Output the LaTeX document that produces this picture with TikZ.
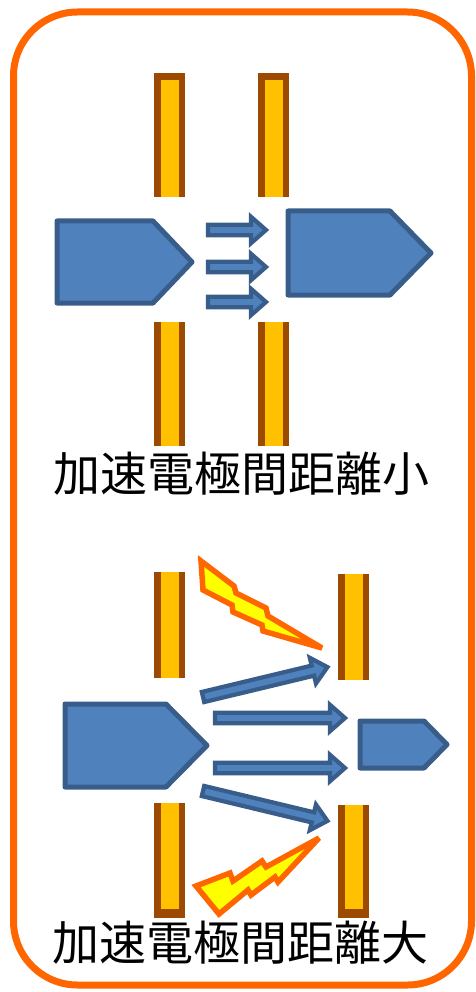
\documentclass[tikz,border=0pt]{standalone}
\usepackage{fontspec}
\newfontfamily\jpfont{Noto Sans CJK JP}

\definecolor{frameorange}{HTML}{FF6600}
\definecolor{ionfill}{HTML}{4F81BD}
\definecolor{ionedge}{HTML}{385D8A}
\definecolor{plateedge}{HTML}{9C4A00}
\definecolor{platecore}{HTML}{FFC000}
\definecolor{sparkyellow}{HTML}{FFFF00}

% electrode plate: x-left, y-top, y-bottom, top cap, bottom cap
\newcommand\plate[5]{%
  \fill[plateedge] (#1,#2) rectangle (#1+31,#3);
  \fill[platecore] (#1+6.5,#2+#4) rectangle (#1+24.5,#3-#5);
}

\tikzset{
  frame/.style={draw=frameorange, line width=7pt, rounded corners=64pt},
  ion/.style={fill=ionfill, draw=ionedge, line width=5pt, line join=round},
  beam/.style={fill=ionfill, draw=ionedge, line width=4.2pt, line join=miter},
  spark/.style={fill=sparkyellow, draw=frameorange, line width=5.5pt, line join=miter, miter limit=6},
  caption/.style={font=\jpfont\fontsize{47}{52}\selectfont, inner sep=0pt},
  pics/beamarrow/.style={code={
    \draw[beam] (0,-5.2) -- (#1-15,-5.2) -- (#1-15,-13.2) -- (#1,0)
      -- (#1-15,13.2) -- (#1-15,5.2) -- (0,5.2) -- cycle;
  }}
}

\begin{document}
\begin{tikzpicture}[x=1pt,y=-1pt]
\useasboundingbox (0,0) rectangle (475,992);

% outer frame
\draw[frame] (13.5,12) rectangle (471.5,985);

% ---- narrow gap: electrodes ----
\plate{154}{73}{197}{7}{0}
\plate{258}{73}{197}{7}{0}
\plate{154}{322}{446}{0}{0}
\plate{258}{322}{446}{0}{0}

% ion bunches
\draw[ion] (57,221) -- (153,221) -- (192,262) -- (153,303) -- (57,303) -- cycle;
\draw[ion] (288,211) -- (390,211) -- (431,253) -- (390,295) -- (288,295) -- cycle;

% beams through the gap
\coordinate (b1) at (208,230);
\coordinate (b2) at (208,267);
\coordinate (b3) at (208,302);
\pic at (b1) {beamarrow=58};
\pic at (b2) {beamarrow=58};
\pic at (b3) {beamarrow=58};

\node[caption] (small) at (241,474) {加速電極間距離小};

% ---- wide gap: electrodes ----
\plate{154}{572}{678}{0}{0}
\plate{338}{574}{680}{0}{0}
\plate{154}{803}{918}{0}{9}
\plate{338}{805}{918}{0}{9}

% ion bunches
\draw[ion] (65,704) -- (166,704) -- (207,745.5) -- (166,787) -- (65,787) -- cycle;
\draw[ion] (360,721) -- (424,721) -- (447,744.5) -- (424,768) -- (360,768) -- cycle;

% diverging beams
\coordinate (c1) at (203,697);
\coordinate (c2) at (215,718);
\coordinate (c3) at (215,768);
\coordinate (c4) at (203,791);
\pic[rotate=13.5] at (c1) {beamarrow=128};
\pic at (c2) {beamarrow=130};
\pic at (c3) {beamarrow=130};
\pic[rotate=-13.5] at (c4) {beamarrow=128};

% discharges
\draw[spark] (201,561) -- (234,586) -- (236,593) -- (266,608) -- (268,616)
  -- (322,648) -- (263,631) -- (262,625) -- (233,612) -- (232,605) -- (203,590) -- cycle;
\draw[spark] (196,886) -- (230,873) -- (233,881) -- (262,861) -- (266,867)
  -- (319,838) -- (278,882) -- (275,877) -- (251,895) -- (248,890) -- (219,914) -- cycle;

\node[caption] (large) at (240,943) {加速電極間距離大};
\end{tikzpicture}
\end{document}
